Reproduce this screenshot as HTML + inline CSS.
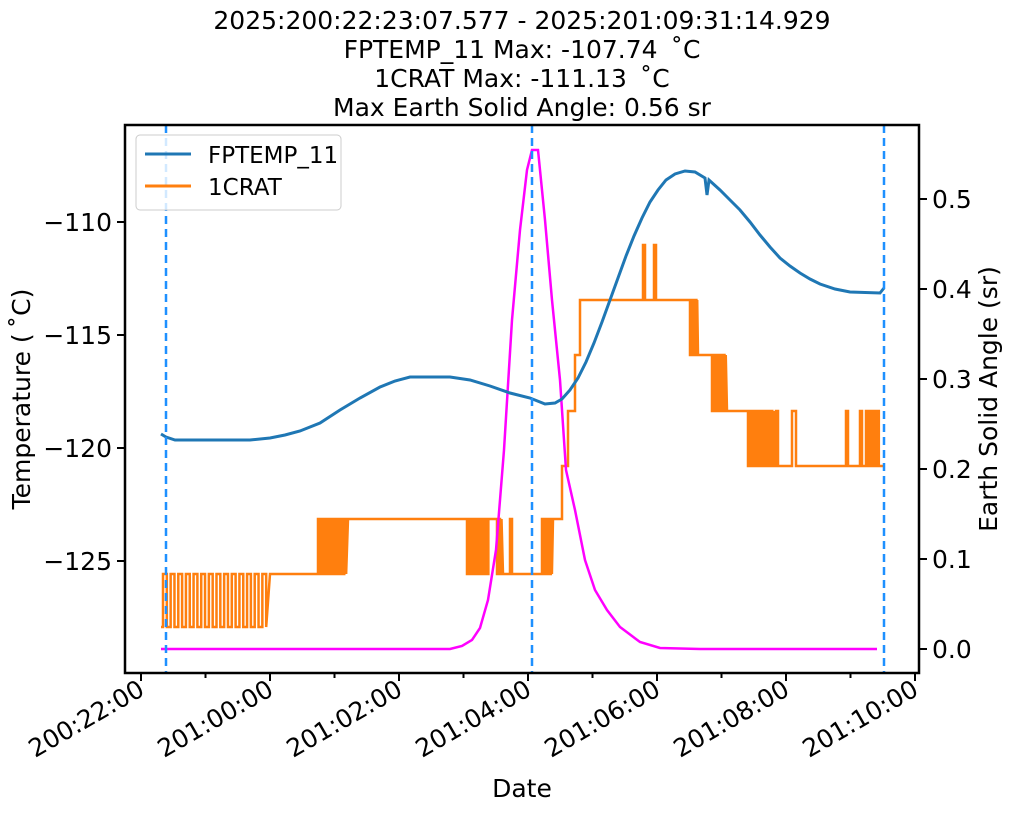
<!DOCTYPE html>
<html><head><meta charset="utf-8"><style>
body{margin:0;background:#fff;}
svg text{font-family:"DejaVu Sans","Liberation Sans",sans-serif;fill:#000;}
</style></head><body>
<svg id="s" width="1011" height="811" viewBox="0 0 1011 811" xmlns="http://www.w3.org/2000/svg">
<rect width="1011" height="811" fill="#fff"/>
<g font-size="25" text-anchor="middle">
<text x="522" y="29">2025:200:22:23:07.577 - 2025:201:09:31:14.929</text>
<text x="522" y="58">FPTEMP_11 Max: -107.74 DEG</text>
<text x="522" y="87">1CRAT Max: -111.13 DEG</text>
<text x="522" y="116">Max Earth Solid Angle: 0.56 sr</text>
</g>
<g id="plot"></g>
<rect x="125" y="125" width="794" height="548" fill="none" stroke="#000" stroke-width="2.5"/>
<g id="ticks" stroke="#000" stroke-width="2"></g>
<g id="lbl" font-size="25"></g>
<text x="30" y="399" font-size="25" text-anchor="middle" transform="rotate(-90 30 399)">Temperature (DEGC)</text>
<text x="997" y="399" font-size="25" text-anchor="middle" transform="rotate(-90 997 399)">Earth Solid Angle (sr)</text>
<text x="522" y="797" font-size="25" text-anchor="middle">Date</text>
<g>
<rect x="136" y="135" width="205" height="75" rx="4" fill="#fff" fill-opacity="0.8" stroke="#ccc"/>
<line x1="145" y1="154" x2="191" y2="154" stroke="#1f77b4" stroke-width="3"/>
<line x1="145" y1="186" x2="191" y2="186" stroke="#ff7f0e" stroke-width="3"/>
<text x="208" y="163" font-size="23">FPTEMP_11</text>
<text x="208" y="195" font-size="23">1CRAT</text>
</g>
</svg>
<script>
var NS="http://www.w3.org/2000/svg";
function el(p,t,a){var e=document.createElementNS(NS,t);for(var k in a)e.setAttribute(k,a[k]);p.appendChild(e);return e;}
var plot=document.getElementById('plot'),ticks=document.getElementById('ticks'),lbl=document.getElementById('lbl');
document.querySelectorAll('text').forEach(function(t){t.textContent=t.textContent.replace(' DEG',' \u2009\u02DAC').replace('(DEGC)','(\u2009\u02DAC)');});
var o=[[161,627]];
function tog(x0,x1,a,b,n,end){var step=(x1-x0)/n;for(var i=0;i<n;i++){var x=x0+i*step;o.push([x,a],[x,b],[x+step*0.5,b],[x+step*0.5,a]);}o.push([x1,end],[x1,end]);}
tog(163,270,627,574,14,574);
o.push([318,574]);tog(318,348,574,519,8,519);
o.push([467,519]);tog(467,490,519,574,7,519);
o.push([497,519]);tog(497,503,519,574,2,574);o.push([510,574],[510,519],[512,519],[512,574]);
o.push([542,574]);tog(542,553,574,519,5,519);
o.push([562,519],[562,466],[568,466],[568,411],[575,411],[575,355],[580,355],[580,300],[643,300],[643,245],[645,245],[645,300],[654,300],[654,245],[656,245],[656,300]);
o.push([690,300]);tog(690,698,300,355,5,355);
o.push([712,355]);tog(712,727,355,411,6,411);
o.push([748,411]);tog(748,775,411,466,10,466);
o.push([776,466],[776,411],[778,411],[778,466],[792,466],[792,411],[796,411],[796,466],[846,466],[846,411],[848,411],[848,466],[860,466],[860,411],[862,411],[862,466]);
tog(866,880,466,411,6,466);o.push([884,466]);
el(plot,'polyline',{points:o.map(p=>p.join(',')).join(' '),fill:'none',stroke:'#ff7f0e','stroke-width':2.5});
var m=[[161,649],[450,649],[462,646],[472,640],[480,628],[488,600],[496,550],[504,450],[512,320],[520,230],[527,170],[532,150],[538,150],[545,220],[552,300],[560,380],[566,470],[575,510],[585,560],[595,590],[607,610],[620,627],[640,642],[660,648],[700,649],[877,649]];
el(plot,'polyline',{points:m.join(' '),fill:'none',stroke:'#ff00ff','stroke-width':2.5});
var b=[[161,434],[166,437],[175,440],[250,440],[270,438],[285,435],[300,431],[320,423],[340,410],[360,398],[380,387],[395,381],[410,377],[450,377],[470,380],[490,386],[510,393],[530,398],[545,404],[555,403],[562,399],[570,390],[578,378],[586,362],[594,343],[602,322],[610,300],[618,278],[626,256],[634,236],[642,218],[650,202],[658,190],[666,180],[675,174],[685,171],[695,172],[705,178],[707,195],[709,180],[720,190],[730,200],[740,210],[750,222],[760,235],[770,247],[780,258],[790,266],[800,273],[810,279],[820,284],[835,289],[850,292],[880,293],[884,288]];
el(plot,'polyline',{points:b.join(' '),fill:'none',stroke:'#1f77b4','stroke-width':3});
[166,532,884].forEach(function(x){el(plot,'line',{x1:x,y1:125,x2:x,y2:673,stroke:'#1e90ff','stroke-width':2.5,'stroke-dasharray':'8,5'});});
[[-110,222],[-115,335],[-120,448],[-125,561]].forEach(function(t){el(ticks,'line',{x1:117,y1:t[1],x2:125,y2:t[1]});var e=el(lbl,'text',{x:112,y:t[1]+9,'text-anchor':'end'});e.textContent='\u2212'+(-t[0]);});
[0,0.1,0.2,0.3,0.4,0.5].forEach(function(v){var y=649-v*900;el(ticks,'line',{x1:919,y1:y,x2:927,y2:y});var e=el(lbl,'text',{x:932,y:y+9});e.textContent=v.toFixed(1);});
var xl=['200:22:00','201:00:00','201:02:00','201:04:00','201:06:00','201:08:00','201:10:00'];
for(var i=0;i<=6;i++){var x=141+i*129;el(ticks,'line',{x1:x,y1:673,x2:x,y2:681});var e=el(lbl,'text',{x:x+5,y:694,'text-anchor':'end',transform:'rotate(-30 '+(x+5)+' 694)'});e.textContent=xl[i];
 if(i<6)el(ticks,'line',{x1:x+64.5,y1:673,x2:x+64.5,y2:678});}
</script>
</body></html>
